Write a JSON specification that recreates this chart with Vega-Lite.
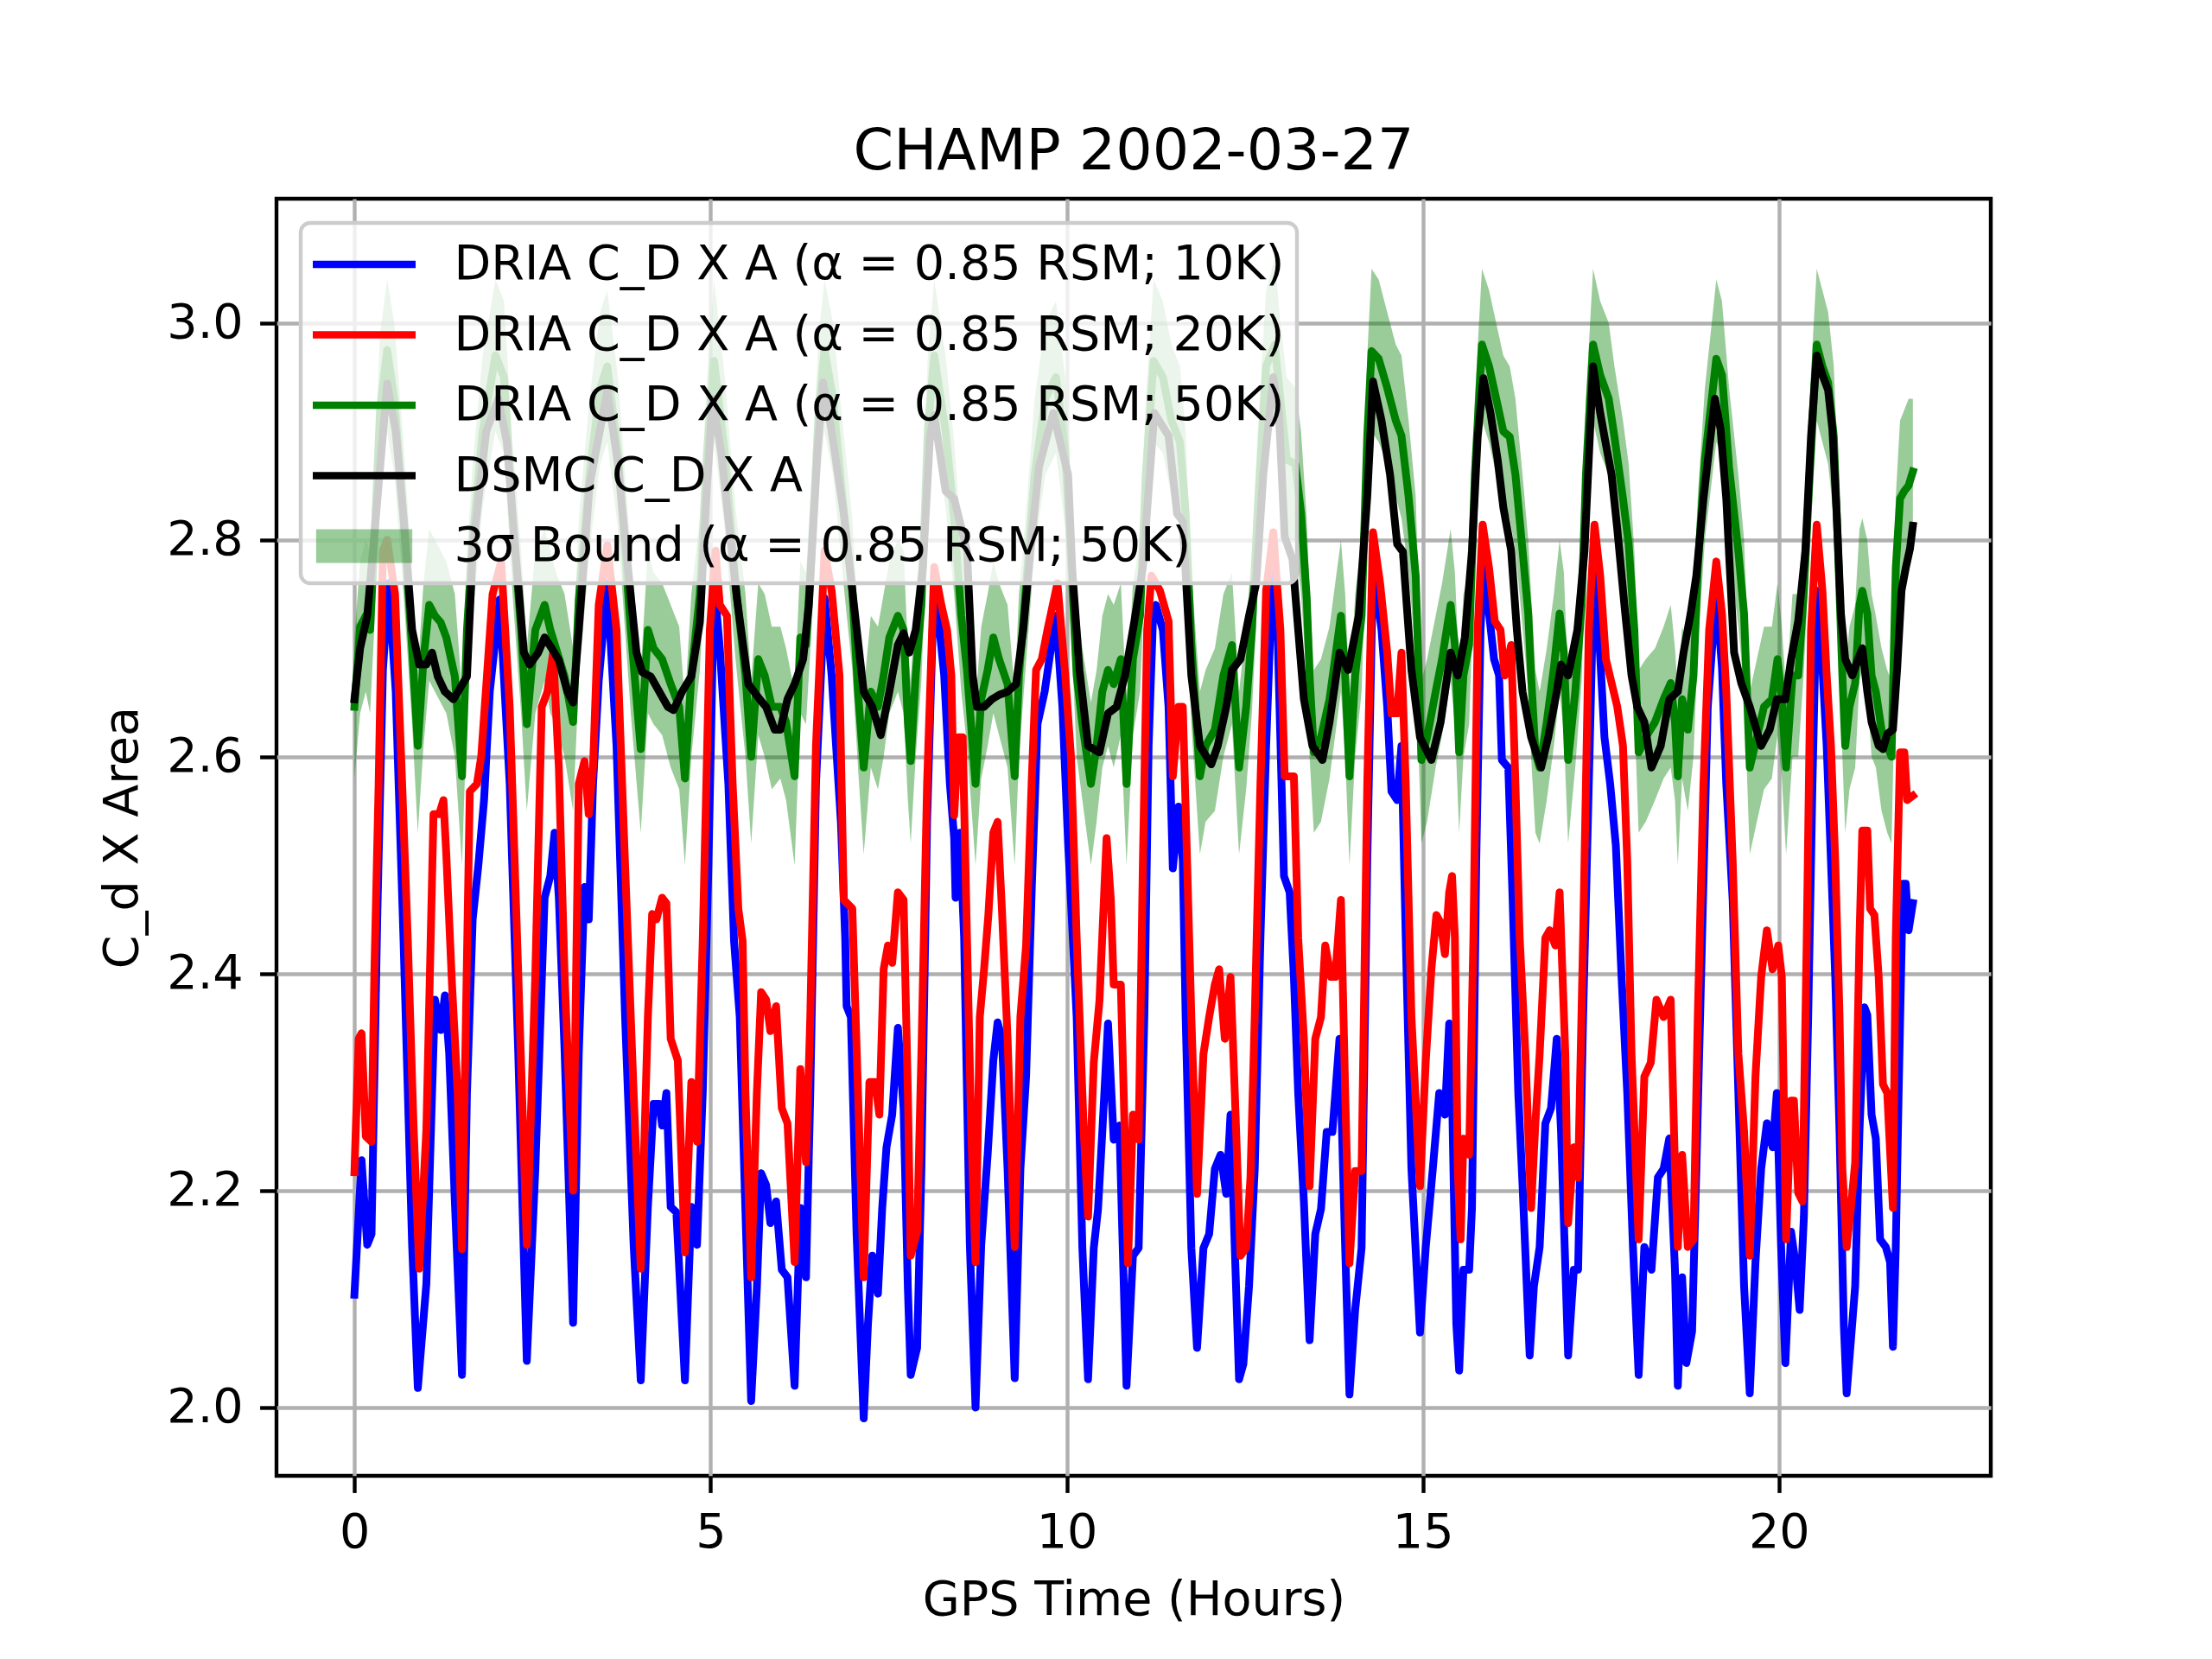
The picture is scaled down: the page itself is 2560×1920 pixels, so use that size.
{
  "$schema": "https://vega.github.io/schema/vega-lite/v6.json",
  "width": 1984,
  "height": 1478,
  "autosize": {"type": "none"},
  "padding": {"left": 320, "top": 230, "right": 256, "bottom": 212},
  "background": "white",
  "title": {"text": "CHAMP 2002-03-27", "font": "DejaVu Sans", "fontSize": 66.7, "fontWeight": "normal", "color": "black", "anchor": "middle", "baseline": "alphabetic", "offset": -33},
  "config": {
    "view": {"stroke": "black", "strokeWidth": 4.4},
    "axis": {
      "domain": false, "grid": true, "gridColor": "#b0b0b0", "gridWidth": 4.4,
      "ticks": true, "tickColor": "black", "tickWidth": 4.4, "tickSize": 19.4,
      "labelFont": "DejaVu Sans", "labelFontSize": 55.6, "labelColor": "black", "labelPadding": 19.4,
      "labelFlush": false, "labelOverlap": false,
      "titleFont": "DejaVu Sans", "titleFontSize": 55.6, "titleFontWeight": "normal", "titleColor": "black", "titlePadding": 22
    }
  },
  "datasets": {
    "band": [
      {"t":0,"lo":2.58,"hi":2.71},{"t":0.08,"lo":2.64,"hi":2.78},{"t":0.16,"lo":2.66,"hi":2.8},{"t":0.22,"lo":2.64,"hi":2.79},{"t":0.28,"lo":2.72,"hi":2.87},{"t":0.36,"lo":2.85,"hi":2.99},{"t":0.46,"lo":2.9,"hi":3.04},{"t":0.56,"lo":2.86,"hi":3.0},{"t":0.69,"lo":2.75,"hi":2.89},{"t":0.81,"lo":2.63,"hi":2.77},{"t":0.89,"lo":2.53,"hi":2.68},{"t":0.97,"lo":2.61,"hi":2.76},{"t":1.05,"lo":2.67,"hi":2.81},{"t":1.13,"lo":2.66,"hi":2.8},{"t":1.21,"lo":2.65,"hi":2.79},{"t":1.29,"lo":2.64,"hi":2.78},{"t":1.41,"lo":2.6,"hi":2.75},{"t":1.51,"lo":2.5,"hi":2.66},{"t":1.58,"lo":2.64,"hi":2.79},{"t":1.66,"lo":2.73,"hi":2.87},{"t":1.8,"lo":2.83,"hi":2.97},{"t":1.98,"lo":2.9,"hi":3.04},{"t":2.1,"lo":2.88,"hi":3.02},{"t":2.22,"lo":2.75,"hi":2.89},{"t":2.34,"lo":2.64,"hi":2.79},{"t":2.42,"lo":2.55,"hi":2.7},{"t":2.54,"lo":2.64,"hi":2.79},{"t":2.67,"lo":2.67,"hi":2.81},{"t":2.75,"lo":2.64,"hi":2.79},{"t":2.83,"lo":2.63,"hi":2.77},{"t":2.95,"lo":2.6,"hi":2.75},{"t":3.07,"lo":2.55,"hi":2.7},{"t":3.15,"lo":2.67,"hi":2.82},{"t":3.3,"lo":2.79,"hi":2.93},{"t":3.45,"lo":2.87,"hi":3.01},{"t":3.55,"lo":2.89,"hi":3.03},{"t":3.7,"lo":2.81,"hi":2.95},{"t":3.88,"lo":2.64,"hi":2.79},{"t":4.02,"lo":2.53,"hi":2.68},{"t":4.12,"lo":2.64,"hi":2.79},{"t":4.2,"lo":2.63,"hi":2.77},{"t":4.32,"lo":2.62,"hi":2.76},{"t":4.44,"lo":2.59,"hi":2.74},{"t":4.56,"lo":2.57,"hi":2.72},{"t":4.64,"lo":2.5,"hi":2.65},{"t":4.73,"lo":2.6,"hi":2.75},{"t":4.85,"lo":2.68,"hi":2.82},{"t":4.95,"lo":2.81,"hi":2.95},{"t":5.05,"lo":2.89,"hi":3.04},{"t":5.2,"lo":2.81,"hi":2.95},{"t":5.35,"lo":2.69,"hi":2.83},{"t":5.49,"lo":2.6,"hi":2.75},{"t":5.57,"lo":2.52,"hi":2.67},{"t":5.67,"lo":2.62,"hi":2.76},{"t":5.76,"lo":2.6,"hi":2.75},{"t":5.86,"lo":2.57,"hi":2.72},{"t":5.98,"lo":2.58,"hi":2.72},{"t":6.06,"lo":2.56,"hi":2.7},{"t":6.18,"lo":2.5,"hi":2.66},{"t":6.26,"lo":2.64,"hi":2.78},{"t":6.34,"lo":2.63,"hi":2.77},{"t":6.42,"lo":2.72,"hi":2.86},{"t":6.52,"lo":2.85,"hi":2.99},{"t":6.6,"lo":2.9,"hi":3.04},{"t":6.72,"lo":2.86,"hi":3.0},{"t":6.85,"lo":2.77,"hi":2.91},{"t":6.99,"lo":2.68,"hi":2.82},{"t":7.07,"lo":2.59,"hi":2.73},{"t":7.15,"lo":2.51,"hi":2.66},{"t":7.25,"lo":2.59,"hi":2.73},{"t":7.35,"lo":2.57,"hi":2.72},{"t":7.43,"lo":2.6,"hi":2.75},{"t":7.51,"lo":2.64,"hi":2.78},{"t":7.63,"lo":2.66,"hi":2.8},{"t":7.71,"lo":2.64,"hi":2.79},{"t":7.77,"lo":2.56,"hi":2.7},{"t":7.81,"lo":2.52,"hi":2.67},{"t":7.88,"lo":2.6,"hi":2.75},{"t":7.96,"lo":2.67,"hi":2.81},{"t":8.05,"lo":2.83,"hi":2.97},{"t":8.14,"lo":2.9,"hi":3.04},{"t":8.3,"lo":2.83,"hi":2.97},{"t":8.42,"lo":2.75,"hi":2.89},{"t":8.52,"lo":2.66,"hi":2.8},{"t":8.6,"lo":2.61,"hi":2.75},{"t":8.72,"lo":2.5,"hi":2.65},{"t":8.8,"lo":2.58,"hi":2.72},{"t":8.89,"lo":2.61,"hi":2.75},{"t":8.97,"lo":2.64,"hi":2.78},{"t":9.05,"lo":2.62,"hi":2.76},{"t":9.17,"lo":2.59,"hi":2.74},{"t":9.27,"lo":2.5,"hi":2.66},{"t":9.33,"lo":2.6,"hi":2.75},{"t":9.41,"lo":2.67,"hi":2.81},{"t":9.55,"lo":2.79,"hi":2.93},{"t":9.7,"lo":2.86,"hi":3.0},{"t":9.85,"lo":2.88,"hi":3.02},{"t":9.98,"lo":2.81,"hi":2.95},{"t":10.08,"lo":2.69,"hi":2.83},{"t":10.14,"lo":2.6,"hi":2.75},{"t":10.22,"lo":2.56,"hi":2.7},{"t":10.34,"lo":2.5,"hi":2.65},{"t":10.42,"lo":2.54,"hi":2.68},{"t":10.5,"lo":2.59,"hi":2.73},{"t":10.58,"lo":2.61,"hi":2.75},{"t":10.66,"lo":2.59,"hi":2.74},{"t":10.76,"lo":2.62,"hi":2.76},{"t":10.84,"lo":2.5,"hi":2.65},{"t":10.93,"lo":2.62,"hi":2.76},{"t":11.03,"lo":2.66,"hi":2.8},{"t":11.11,"lo":2.79,"hi":2.93},{"t":11.22,"lo":2.89,"hi":3.04},{"t":11.35,"lo":2.88,"hi":3.02},{"t":11.47,"lo":2.84,"hi":2.98},{"t":11.59,"lo":2.82,"hi":2.96},{"t":11.67,"lo":2.75,"hi":2.9},{"t":11.75,"lo":2.63,"hi":2.77},{"t":11.87,"lo":2.51,"hi":2.66},{"t":11.95,"lo":2.54,"hi":2.68},{"t":12.08,"lo":2.55,"hi":2.7},{"t":12.2,"lo":2.6,"hi":2.75},{"t":12.32,"lo":2.63,"hi":2.77},{"t":12.42,"lo":2.51,"hi":2.66},{"t":12.52,"lo":2.57,"hi":2.72},{"t":12.6,"lo":2.64,"hi":2.79},{"t":12.68,"lo":2.75,"hi":2.9},{"t":12.8,"lo":2.89,"hi":3.03},{"t":12.92,"lo":2.91,"hi":3.06},{"t":13.0,"lo":2.86,"hi":3.0},{"t":13.09,"lo":2.8,"hi":2.95},{"t":13.21,"lo":2.8,"hi":2.94},{"t":13.29,"lo":2.75,"hi":2.9},{"t":13.37,"lo":2.67,"hi":2.82},{"t":13.41,"lo":2.6,"hi":2.75},{"t":13.47,"lo":2.53,"hi":2.68},{"t":13.57,"lo":2.54,"hi":2.69},{"t":13.69,"lo":2.58,"hi":2.72},{"t":13.85,"lo":2.66,"hi":2.8},{"t":13.91,"lo":2.6,"hi":2.75},{"t":13.97,"lo":2.5,"hi":2.66},{"t":14.05,"lo":2.6,"hi":2.75},{"t":14.14,"lo":2.66,"hi":2.8},{"t":14.22,"lo":2.82,"hi":2.97},{"t":14.28,"lo":2.9,"hi":3.05},{"t":14.38,"lo":2.89,"hi":3.04},{"t":14.5,"lo":2.87,"hi":3.01},{"t":14.62,"lo":2.84,"hi":2.98},{"t":14.7,"lo":2.82,"hi":2.97},{"t":14.8,"lo":2.77,"hi":2.91},{"t":14.9,"lo":2.69,"hi":2.84},{"t":14.98,"lo":2.52,"hi":2.67},{"t":15.06,"lo":2.54,"hi":2.69},{"t":15.18,"lo":2.59,"hi":2.73},{"t":15.27,"lo":2.62,"hi":2.76},{"t":15.39,"lo":2.67,"hi":2.81},{"t":15.45,"lo":2.63,"hi":2.77},{"t":15.51,"lo":2.53,"hi":2.68},{"t":15.57,"lo":2.6,"hi":2.75},{"t":15.65,"lo":2.63,"hi":2.77},{"t":15.73,"lo":2.79,"hi":2.93},{"t":15.83,"lo":2.91,"hi":3.05},{"t":15.93,"lo":2.89,"hi":3.03},{"t":16.03,"lo":2.86,"hi":3.0},{"t":16.13,"lo":2.83,"hi":2.97},{"t":16.22,"lo":2.82,"hi":2.96},{"t":16.3,"lo":2.79,"hi":2.93},{"t":16.4,"lo":2.72,"hi":2.86},{"t":16.48,"lo":2.66,"hi":2.8},{"t":16.52,"lo":2.6,"hi":2.75},{"t":16.58,"lo":2.53,"hi":2.68},{"t":16.64,"lo":2.52,"hi":2.66},{"t":16.74,"lo":2.56,"hi":2.7},{"t":16.84,"lo":2.61,"hi":2.75},{"t":16.92,"lo":2.66,"hi":2.8},{"t":16.98,"lo":2.62,"hi":2.77},{"t":17.04,"lo":2.52,"hi":2.67},{"t":17.14,"lo":2.59,"hi":2.73},{"t":17.23,"lo":2.67,"hi":2.81},{"t":17.29,"lo":2.79,"hi":2.93},{"t":17.39,"lo":2.91,"hi":3.05},{"t":17.49,"lo":2.88,"hi":3.02},{"t":17.61,"lo":2.86,"hi":3.0},{"t":17.69,"lo":2.82,"hi":2.96},{"t":17.81,"lo":2.77,"hi":2.91},{"t":17.89,"lo":2.72,"hi":2.87},{"t":17.97,"lo":2.64,"hi":2.79},{"t":18.03,"lo":2.53,"hi":2.68},{"t":18.13,"lo":2.54,"hi":2.69},{"t":18.26,"lo":2.56,"hi":2.7},{"t":18.38,"lo":2.58,"hi":2.72},{"t":18.48,"lo":2.59,"hi":2.74},{"t":18.54,"lo":2.56,"hi":2.7},{"t":18.58,"lo":2.5,"hi":2.66},{"t":18.64,"lo":2.58,"hi":2.72},{"t":18.72,"lo":2.55,"hi":2.7},{"t":18.8,"lo":2.6,"hi":2.75},{"t":18.86,"lo":2.7,"hi":2.84},{"t":18.96,"lo":2.8,"hi":2.94},{"t":19.12,"lo":2.89,"hi":3.04},{"t":19.2,"lo":2.88,"hi":3.02},{"t":19.3,"lo":2.79,"hi":2.94},{"t":19.43,"lo":2.72,"hi":2.86},{"t":19.51,"lo":2.66,"hi":2.8},{"t":19.59,"lo":2.51,"hi":2.66},{"t":19.69,"lo":2.54,"hi":2.69},{"t":19.79,"lo":2.57,"hi":2.72},{"t":19.9,"lo":2.58,"hi":2.72},{"t":19.98,"lo":2.62,"hi":2.76},{"t":20.04,"lo":2.58,"hi":2.72},{"t":20.1,"lo":2.51,"hi":2.66},{"t":20.19,"lo":2.6,"hi":2.75},{"t":20.27,"lo":2.6,"hi":2.75},{"t":20.35,"lo":2.68,"hi":2.82},{"t":20.43,"lo":2.79,"hi":2.93},{"t":20.53,"lo":2.91,"hi":3.05},{"t":20.61,"lo":2.89,"hi":3.03},{"t":20.69,"lo":2.87,"hi":3.01},{"t":20.77,"lo":2.82,"hi":2.96},{"t":20.83,"lo":2.72,"hi":2.86},{"t":20.89,"lo":2.6,"hi":2.75},{"t":20.93,"lo":2.53,"hi":2.68},{"t":20.99,"lo":2.57,"hi":2.72},{"t":21.07,"lo":2.59,"hi":2.74},{"t":21.13,"lo":2.67,"hi":2.81},{"t":21.17,"lo":2.68,"hi":2.82},{"t":21.24,"lo":2.66,"hi":2.8},{"t":21.3,"lo":2.6,"hi":2.75},{"t":21.36,"lo":2.59,"hi":2.73},{"t":21.44,"lo":2.55,"hi":2.7},{"t":21.52,"lo":2.53,"hi":2.68},{"t":21.58,"lo":2.52,"hi":2.67},{"t":21.64,"lo":2.7,"hi":2.84},{"t":21.7,"lo":2.76,"hi":2.91},{"t":21.76,"lo":2.77,"hi":2.92},{"t":21.82,"lo":2.78,"hi":2.93},{"t":21.88,"lo":2.79,"hi":2.93}
    ],
    "lines": [
      {"s":"b","t":0,"v":2.104},{"s":"b","t":0.1,"v":2.228},{"s":"b","t":0.18,"v":2.15},{"s":"b","t":0.24,"v":2.16},{"s":"b","t":0.32,"v":2.45},{"s":"b","t":0.4,"v":2.68},{"s":"b","t":0.48,"v":2.76},{"s":"b","t":0.58,"v":2.66},{"s":"b","t":0.69,"v":2.43},{"s":"b","t":0.81,"v":2.15},{"s":"b","t":0.89,"v":2.018},{"s":"b","t":1.01,"v":2.114},{"s":"b","t":1.09,"v":2.29},{"s":"b","t":1.13,"v":2.376},{"s":"b","t":1.21,"v":2.348},{"s":"b","t":1.27,"v":2.38},{"s":"b","t":1.33,"v":2.327},{"s":"b","t":1.41,"v":2.19},{"s":"b","t":1.51,"v":2.03},{"s":"b","t":1.58,"v":2.29},{"s":"b","t":1.66,"v":2.45},{"s":"b","t":1.74,"v":2.5},{"s":"b","t":1.82,"v":2.56},{"s":"b","t":1.9,"v":2.66},{"s":"b","t":2.04,"v":2.745},{"s":"b","t":2.18,"v":2.575},{"s":"b","t":2.3,"v":2.327},{"s":"b","t":2.42,"v":2.043},{"s":"b","t":2.54,"v":2.22},{"s":"b","t":2.67,"v":2.47},{"s":"b","t":2.75,"v":2.49},{"s":"b","t":2.81,"v":2.53},{"s":"b","t":2.87,"v":2.47},{"s":"b","t":2.95,"v":2.33},{"s":"b","t":3.07,"v":2.078},{"s":"b","t":3.15,"v":2.327},{"s":"b","t":3.23,"v":2.48},{"s":"b","t":3.29,"v":2.45},{"s":"b","t":3.35,"v":2.575},{"s":"b","t":3.43,"v":2.67},{"s":"b","t":3.55,"v":2.76},{"s":"b","t":3.68,"v":2.61},{"s":"b","t":3.8,"v":2.36},{"s":"b","t":3.92,"v":2.15},{"s":"b","t":4.02,"v":2.025},{"s":"b","t":4.12,"v":2.185},{"s":"b","t":4.2,"v":2.28},{"s":"b","t":4.28,"v":2.28},{"s":"b","t":4.32,"v":2.26},{"s":"b","t":4.38,"v":2.29},{"s":"b","t":4.44,"v":2.185},{"s":"b","t":4.52,"v":2.18},{"s":"b","t":4.64,"v":2.025},{"s":"b","t":4.73,"v":2.185},{"s":"b","t":4.81,"v":2.15},{"s":"b","t":4.89,"v":2.29},{"s":"b","t":4.97,"v":2.5},{"s":"b","t":5.05,"v":2.76},{"s":"b","t":5.13,"v":2.7},{"s":"b","t":5.25,"v":2.575},{"s":"b","t":5.33,"v":2.43},{"s":"b","t":5.41,"v":2.36},{"s":"b","t":5.49,"v":2.18},{"s":"b","t":5.57,"v":2.006},{"s":"b","t":5.65,"v":2.11},{"s":"b","t":5.71,"v":2.216},{"s":"b","t":5.78,"v":2.205},{"s":"b","t":5.84,"v":2.17},{"s":"b","t":5.92,"v":2.19},{"s":"b","t":6.0,"v":2.127},{"s":"b","t":6.08,"v":2.12},{"s":"b","t":6.18,"v":2.02},{"s":"b","t":6.26,"v":2.184},{"s":"b","t":6.34,"v":2.12},{"s":"b","t":6.4,"v":2.29},{"s":"b","t":6.48,"v":2.575},{"s":"b","t":6.6,"v":2.746},{"s":"b","t":6.7,"v":2.675},{"s":"b","t":6.83,"v":2.54},{"s":"b","t":6.89,"v":2.433},{"s":"b","t":6.91,"v":2.37},{"s":"b","t":6.97,"v":2.36},{"s":"b","t":7.05,"v":2.16},{"s":"b","t":7.15,"v":1.99},{"s":"b","t":7.21,"v":2.077},{"s":"b","t":7.27,"v":2.14},{"s":"b","t":7.35,"v":2.105},{"s":"b","t":7.41,"v":2.184},{"s":"b","t":7.47,"v":2.24},{"s":"b","t":7.55,"v":2.27},{"s":"b","t":7.63,"v":2.35},{"s":"b","t":7.71,"v":2.276},{"s":"b","t":7.77,"v":2.11},{"s":"b","t":7.81,"v":2.03},{"s":"b","t":7.9,"v":2.055},{"s":"b","t":7.96,"v":2.22},{"s":"b","t":8.04,"v":2.54},{"s":"b","t":8.14,"v":2.767},{"s":"b","t":8.28,"v":2.675},{"s":"b","t":8.36,"v":2.575},{"s":"b","t":8.42,"v":2.525},{"s":"b","t":8.44,"v":2.47},{"s":"b","t":8.5,"v":2.53},{"s":"b","t":8.56,"v":2.433},{"s":"b","t":8.64,"v":2.15},{"s":"b","t":8.72,"v":2.0},{"s":"b","t":8.8,"v":2.15},{"s":"b","t":8.89,"v":2.233},{"s":"b","t":8.97,"v":2.32},{"s":"b","t":9.03,"v":2.355},{"s":"b","t":9.09,"v":2.34},{"s":"b","t":9.17,"v":2.22},{"s":"b","t":9.27,"v":2.027},{"s":"b","t":9.35,"v":2.22},{"s":"b","t":9.43,"v":2.305},{"s":"b","t":9.51,"v":2.48},{"s":"b","t":9.59,"v":2.63},{"s":"b","t":9.69,"v":2.66},{"s":"b","t":9.77,"v":2.696},{"s":"b","t":9.85,"v":2.73},{"s":"b","t":9.94,"v":2.646},{"s":"b","t":10.02,"v":2.52},{"s":"b","t":10.14,"v":2.36},{"s":"b","t":10.22,"v":2.147},{"s":"b","t":10.3,"v":2.026},{"s":"b","t":10.38,"v":2.147},{"s":"b","t":10.44,"v":2.183},{"s":"b","t":10.5,"v":2.254},{"s":"b","t":10.58,"v":2.354},{"s":"b","t":10.66,"v":2.247},{"s":"b","t":10.74,"v":2.26},{"s":"b","t":10.84,"v":2.02},{"s":"b","t":10.93,"v":2.14},{"s":"b","t":11.01,"v":2.147},{"s":"b","t":11.09,"v":2.36},{"s":"b","t":11.15,"v":2.61},{"s":"b","t":11.21,"v":2.725},{"s":"b","t":11.25,"v":2.74},{"s":"b","t":11.35,"v":2.717},{"s":"b","t":11.43,"v":2.646},{"s":"b","t":11.49,"v":2.497},{"s":"b","t":11.57,"v":2.554},{"s":"b","t":11.63,"v":2.504},{"s":"b","t":11.67,"v":2.36},{"s":"b","t":11.75,"v":2.147},{"s":"b","t":11.83,"v":2.055},{"s":"b","t":11.92,"v":2.147},{"s":"b","t":12.0,"v":2.16},{"s":"b","t":12.08,"v":2.22},{"s":"b","t":12.16,"v":2.233},{"s":"b","t":12.24,"v":2.197},{"s":"b","t":12.3,"v":2.27},{"s":"b","t":12.36,"v":2.147},{"s":"b","t":12.42,"v":2.026},{"s":"b","t":12.48,"v":2.04},{"s":"b","t":12.56,"v":2.112},{"s":"b","t":12.64,"v":2.22},{"s":"b","t":12.72,"v":2.433},{"s":"b","t":12.8,"v":2.61},{"s":"b","t":12.9,"v":2.79},{"s":"b","t":12.96,"v":2.717},{"s":"b","t":13.05,"v":2.49},{"s":"b","t":13.13,"v":2.475},{"s":"b","t":13.19,"v":2.397},{"s":"b","t":13.25,"v":2.29},{"s":"b","t":13.33,"v":2.19},{"s":"b","t":13.41,"v":2.062},{"s":"b","t":13.49,"v":2.16},{"s":"b","t":13.57,"v":2.183},{"s":"b","t":13.65,"v":2.254},{"s":"b","t":13.73,"v":2.254},{"s":"b","t":13.83,"v":2.34},{"s":"b","t":13.91,"v":2.147},{"s":"b","t":13.97,"v":2.012},{"s":"b","t":14.05,"v":2.09},{"s":"b","t":14.14,"v":2.147},{"s":"b","t":14.22,"v":2.504},{"s":"b","t":14.3,"v":2.775},{"s":"b","t":14.42,"v":2.717},{"s":"b","t":14.5,"v":2.646},{"s":"b","t":14.56,"v":2.568},{"s":"b","t":14.64,"v":2.56},{"s":"b","t":14.7,"v":2.61},{"s":"b","t":14.76,"v":2.433},{"s":"b","t":14.84,"v":2.22},{"s":"b","t":14.96,"v":2.069},{"s":"b","t":15.04,"v":2.147},{"s":"b","t":15.14,"v":2.22},{"s":"b","t":15.23,"v":2.29},{"s":"b","t":15.31,"v":2.27},{"s":"b","t":15.37,"v":2.354},{"s":"b","t":15.41,"v":2.29},{"s":"b","t":15.47,"v":2.077},{"s":"b","t":15.51,"v":2.034},{"s":"b","t":15.57,"v":2.127},{"s":"b","t":15.65,"v":2.127},{"s":"b","t":15.69,"v":2.184},{"s":"b","t":15.75,"v":2.504},{"s":"b","t":15.81,"v":2.717},{"s":"b","t":15.85,"v":2.774},{"s":"b","t":15.93,"v":2.732},{"s":"b","t":16.0,"v":2.69},{"s":"b","t":16.07,"v":2.675},{"s":"b","t":16.11,"v":2.597},{"s":"b","t":16.2,"v":2.59},{"s":"b","t":16.26,"v":2.47},{"s":"b","t":16.34,"v":2.29},{"s":"b","t":16.4,"v":2.205},{"s":"b","t":16.5,"v":2.048},{"s":"b","t":16.56,"v":2.112},{"s":"b","t":16.64,"v":2.148},{"s":"b","t":16.72,"v":2.262},{"s":"b","t":16.8,"v":2.276},{"s":"b","t":16.88,"v":2.34},{"s":"b","t":16.94,"v":2.255},{"s":"b","t":17.04,"v":2.048},{"s":"b","t":17.12,"v":2.127},{"s":"b","t":17.18,"v":2.127},{"s":"b","t":17.25,"v":2.36},{"s":"b","t":17.33,"v":2.575},{"s":"b","t":17.41,"v":2.79},{"s":"b","t":17.47,"v":2.717},{"s":"b","t":17.55,"v":2.618},{"s":"b","t":17.63,"v":2.575},{"s":"b","t":17.71,"v":2.518},{"s":"b","t":17.79,"v":2.397},{"s":"b","t":17.87,"v":2.29},{"s":"b","t":17.95,"v":2.148},{"s":"b","t":18.03,"v":2.03},{"s":"b","t":18.11,"v":2.148},{"s":"b","t":18.21,"v":2.127},{"s":"b","t":18.3,"v":2.212},{"s":"b","t":18.38,"v":2.22},{"s":"b","t":18.46,"v":2.248},{"s":"b","t":18.54,"v":2.127},{"s":"b","t":18.58,"v":2.02},{"s":"b","t":18.64,"v":2.12},{"s":"b","t":18.7,"v":2.041},{"s":"b","t":18.78,"v":2.07},{"s":"b","t":18.84,"v":2.22},{"s":"b","t":18.92,"v":2.433},{"s":"b","t":19.0,"v":2.646},{"s":"b","t":19.12,"v":2.753},{"s":"b","t":19.2,"v":2.682},{"s":"b","t":19.26,"v":2.575},{"s":"b","t":19.35,"v":2.468},{"s":"b","t":19.43,"v":2.29},{"s":"b","t":19.51,"v":2.112},{"s":"b","t":19.59,"v":2.013},{"s":"b","t":19.67,"v":2.134},{"s":"b","t":19.75,"v":2.22},{"s":"b","t":19.83,"v":2.262},{"s":"b","t":19.91,"v":2.24},{"s":"b","t":19.97,"v":2.29},{"s":"b","t":20.03,"v":2.148},{"s":"b","t":20.09,"v":2.041},{"s":"b","t":20.17,"v":2.162},{"s":"b","t":20.23,"v":2.134},{"s":"b","t":20.29,"v":2.09},{"s":"b","t":20.35,"v":2.176},{"s":"b","t":20.41,"v":2.36},{"s":"b","t":20.47,"v":2.575},{"s":"b","t":20.53,"v":2.753},{"s":"b","t":20.61,"v":2.682},{"s":"b","t":20.67,"v":2.61},{"s":"b","t":20.73,"v":2.504},{"s":"b","t":20.79,"v":2.397},{"s":"b","t":20.85,"v":2.255},{"s":"b","t":20.91,"v":2.077},{"s":"b","t":20.95,"v":2.013},{"s":"b","t":21.01,"v":2.062},{"s":"b","t":21.07,"v":2.112},{"s":"b","t":21.13,"v":2.255},{"s":"b","t":21.2,"v":2.369},{"s":"b","t":21.24,"v":2.362},{"s":"b","t":21.3,"v":2.27},{"s":"b","t":21.36,"v":2.248},{"s":"b","t":21.42,"v":2.155},{"s":"b","t":21.5,"v":2.148},{"s":"b","t":21.56,"v":2.134},{"s":"b","t":21.6,"v":2.056},{"s":"b","t":21.64,"v":2.148},{"s":"b","t":21.68,"v":2.29},{"s":"b","t":21.74,"v":2.483},{"s":"b","t":21.78,"v":2.483},{"s":"b","t":21.82,"v":2.44},{"s":"b","t":21.88,"v":2.465},
      {"s":"r","t":0,"v":2.217},{"s":"r","t":0.06,"v":2.34},{"s":"r","t":0.1,"v":2.345},{"s":"r","t":0.16,"v":2.25},{"s":"r","t":0.24,"v":2.245},{"s":"r","t":0.28,"v":2.4},{"s":"r","t":0.34,"v":2.575},{"s":"r","t":0.4,"v":2.79},{"s":"r","t":0.46,"v":2.8},{"s":"r","t":0.57,"v":2.75},{"s":"r","t":0.67,"v":2.575},{"s":"r","t":0.75,"v":2.43},{"s":"r","t":0.83,"v":2.26},{"s":"r","t":0.91,"v":2.128},{"s":"r","t":1.01,"v":2.256},{"s":"r","t":1.07,"v":2.43},{"s":"r","t":1.11,"v":2.547},{"s":"r","t":1.19,"v":2.547},{"s":"r","t":1.25,"v":2.56},{"s":"r","t":1.29,"v":2.51},{"s":"r","t":1.37,"v":2.39},{"s":"r","t":1.45,"v":2.29},{"s":"r","t":1.51,"v":2.146},{"s":"r","t":1.62,"v":2.568},{"s":"r","t":1.72,"v":2.575},{"s":"r","t":1.78,"v":2.6},{"s":"r","t":1.86,"v":2.674},{"s":"r","t":1.94,"v":2.75},{"s":"r","t":2.06,"v":2.78},{"s":"r","t":2.18,"v":2.646},{"s":"r","t":2.3,"v":2.4},{"s":"r","t":2.42,"v":2.15},{"s":"r","t":2.54,"v":2.4},{"s":"r","t":2.63,"v":2.646},{"s":"r","t":2.71,"v":2.66},{"s":"r","t":2.79,"v":2.696},{"s":"r","t":2.87,"v":2.59},{"s":"r","t":2.95,"v":2.4},{"s":"r","t":3.07,"v":2.2},{"s":"r","t":3.15,"v":2.575},{"s":"r","t":3.23,"v":2.596},{"s":"r","t":3.29,"v":2.547},{"s":"r","t":3.35,"v":2.59},{"s":"r","t":3.43,"v":2.74},{"s":"r","t":3.55,"v":2.795},{"s":"r","t":3.68,"v":2.717},{"s":"r","t":3.8,"v":2.5},{"s":"r","t":3.92,"v":2.29},{"s":"r","t":4.02,"v":2.128},{"s":"r","t":4.12,"v":2.36},{"s":"r","t":4.18,"v":2.455},{"s":"r","t":4.24,"v":2.45},{"s":"r","t":4.32,"v":2.47},{"s":"r","t":4.38,"v":2.465},{"s":"r","t":4.44,"v":2.34},{"s":"r","t":4.54,"v":2.32},{"s":"r","t":4.64,"v":2.143},{"s":"r","t":4.73,"v":2.3},{"s":"r","t":4.81,"v":2.245},{"s":"r","t":4.89,"v":2.43},{"s":"r","t":4.99,"v":2.717},{"s":"r","t":5.07,"v":2.79},{"s":"r","t":5.13,"v":2.74},{"s":"r","t":5.23,"v":2.73},{"s":"r","t":5.31,"v":2.575},{"s":"r","t":5.39,"v":2.46},{"s":"r","t":5.45,"v":2.43},{"s":"r","t":5.49,"v":2.29},{"s":"r","t":5.57,"v":2.12},{"s":"r","t":5.65,"v":2.29},{"s":"r","t":5.71,"v":2.383},{"s":"r","t":5.78,"v":2.376},{"s":"r","t":5.84,"v":2.347},{"s":"r","t":5.92,"v":2.37},{"s":"r","t":6.0,"v":2.276},{"s":"r","t":6.08,"v":2.262},{"s":"r","t":6.18,"v":2.134},{"s":"r","t":6.26,"v":2.312},{"s":"r","t":6.34,"v":2.226},{"s":"r","t":6.4,"v":2.36},{"s":"r","t":6.48,"v":2.61},{"s":"r","t":6.6,"v":2.79},{"s":"r","t":6.7,"v":2.753},{"s":"r","t":6.81,"v":2.675},{"s":"r","t":6.87,"v":2.468},{"s":"r","t":6.99,"v":2.46},{"s":"r","t":7.07,"v":2.29},{"s":"r","t":7.15,"v":2.12},{"s":"r","t":7.23,"v":2.3},{"s":"r","t":7.31,"v":2.3},{"s":"r","t":7.37,"v":2.27},{"s":"r","t":7.43,"v":2.404},{"s":"r","t":7.49,"v":2.426},{"s":"r","t":7.55,"v":2.41},{"s":"r","t":7.63,"v":2.475},{"s":"r","t":7.71,"v":2.468},{"s":"r","t":7.77,"v":2.29},{"s":"r","t":7.81,"v":2.14},{"s":"r","t":7.9,"v":2.162},{"s":"r","t":7.96,"v":2.326},{"s":"r","t":8.04,"v":2.575},{"s":"r","t":8.14,"v":2.775},{"s":"r","t":8.24,"v":2.74},{"s":"r","t":8.32,"v":2.717},{"s":"r","t":8.38,"v":2.675},{"s":"r","t":8.42,"v":2.546},{"s":"r","t":8.48,"v":2.618},{"s":"r","t":8.54,"v":2.618},{"s":"r","t":8.6,"v":2.433},{"s":"r","t":8.66,"v":2.255},{"s":"r","t":8.72,"v":2.134},{"s":"r","t":8.78,"v":2.36},{"s":"r","t":8.84,"v":2.404},{"s":"r","t":8.9,"v":2.454},{"s":"r","t":8.97,"v":2.53},{"s":"r","t":9.03,"v":2.54},{"s":"r","t":9.09,"v":2.46},{"s":"r","t":9.17,"v":2.34},{"s":"r","t":9.27,"v":2.148},{"s":"r","t":9.35,"v":2.36},{"s":"r","t":9.43,"v":2.426},{"s":"r","t":9.51,"v":2.58},{"s":"r","t":9.57,"v":2.68},{"s":"r","t":9.65,"v":2.69},{"s":"r","t":9.73,"v":2.717},{"s":"r","t":9.87,"v":2.76},{"s":"r","t":9.98,"v":2.675},{"s":"r","t":10.06,"v":2.6},{"s":"r","t":10.14,"v":2.433},{"s":"r","t":10.24,"v":2.254},{"s":"r","t":10.3,"v":2.176},{"s":"r","t":10.38,"v":2.318},{"s":"r","t":10.46,"v":2.375},{"s":"r","t":10.56,"v":2.525},{"s":"r","t":10.62,"v":2.468},{"s":"r","t":10.66,"v":2.39},{"s":"r","t":10.76,"v":2.39},{"s":"r","t":10.8,"v":2.29},{"s":"r","t":10.86,"v":2.133},{"s":"r","t":10.93,"v":2.27},{"s":"r","t":11.01,"v":2.247},{"s":"r","t":11.07,"v":2.504},{"s":"r","t":11.13,"v":2.717},{"s":"r","t":11.19,"v":2.767},{"s":"r","t":11.31,"v":2.753},{"s":"r","t":11.43,"v":2.725},{"s":"r","t":11.49,"v":2.582},{"s":"r","t":11.57,"v":2.646},{"s":"r","t":11.63,"v":2.646},{"s":"r","t":11.69,"v":2.504},{"s":"r","t":11.75,"v":2.36},{"s":"r","t":11.83,"v":2.197},{"s":"r","t":11.92,"v":2.326},{"s":"r","t":12.0,"v":2.36},{"s":"r","t":12.08,"v":2.39},{"s":"r","t":12.14,"v":2.404},{"s":"r","t":12.22,"v":2.34},{"s":"r","t":12.3,"v":2.397},{"s":"r","t":12.36,"v":2.29},{"s":"r","t":12.44,"v":2.14},{"s":"r","t":12.52,"v":2.147},{"s":"r","t":12.58,"v":2.212},{"s":"r","t":12.64,"v":2.36},{"s":"r","t":12.72,"v":2.575},{"s":"r","t":12.8,"v":2.753},{"s":"r","t":12.9,"v":2.807},{"s":"r","t":13.0,"v":2.717},{"s":"r","t":13.06,"v":2.582},{"s":"r","t":13.19,"v":2.582},{"s":"r","t":13.25,"v":2.433},{"s":"r","t":13.33,"v":2.34},{"s":"r","t":13.41,"v":2.204},{"s":"r","t":13.49,"v":2.34},{"s":"r","t":13.57,"v":2.36},{"s":"r","t":13.63,"v":2.426},{"s":"r","t":13.71,"v":2.397},{"s":"r","t":13.77,"v":2.397},{"s":"r","t":13.85,"v":2.468},{"s":"r","t":13.91,"v":2.29},{"s":"r","t":13.97,"v":2.133},{"s":"r","t":14.05,"v":2.218},{"s":"r","t":14.14,"v":2.218},{"s":"r","t":14.22,"v":2.575},{"s":"r","t":14.3,"v":2.807},{"s":"r","t":14.4,"v":2.76},{"s":"r","t":14.5,"v":2.696},{"s":"r","t":14.56,"v":2.64},{"s":"r","t":14.64,"v":2.64},{"s":"r","t":14.7,"v":2.696},{"s":"r","t":14.76,"v":2.575},{"s":"r","t":14.84,"v":2.36},{"s":"r","t":14.96,"v":2.204},{"s":"r","t":15.04,"v":2.318},{"s":"r","t":15.12,"v":2.404},{"s":"r","t":15.19,"v":2.454},{"s":"r","t":15.25,"v":2.447},{"s":"r","t":15.31,"v":2.418},{"s":"r","t":15.37,"v":2.475},{"s":"r","t":15.41,"v":2.49},{"s":"r","t":15.45,"v":2.433},{"s":"r","t":15.49,"v":2.22},{"s":"r","t":15.53,"v":2.155},{"s":"r","t":15.57,"v":2.248},{"s":"r","t":15.65,"v":2.233},{"s":"r","t":15.71,"v":2.433},{"s":"r","t":15.77,"v":2.717},{"s":"r","t":15.84,"v":2.814},{"s":"r","t":15.93,"v":2.774},{"s":"r","t":16.01,"v":2.725},{"s":"r","t":16.09,"v":2.717},{"s":"r","t":16.15,"v":2.675},{"s":"r","t":16.24,"v":2.703},{"s":"r","t":16.3,"v":2.575},{"s":"r","t":16.36,"v":2.433},{"s":"r","t":16.44,"v":2.326},{"s":"r","t":16.52,"v":2.184},{"s":"r","t":16.58,"v":2.262},{"s":"r","t":16.64,"v":2.326},{"s":"r","t":16.72,"v":2.433},{"s":"r","t":16.78,"v":2.44},{"s":"r","t":16.86,"v":2.426},{"s":"r","t":16.92,"v":2.475},{"s":"r","t":17.0,"v":2.326},{"s":"r","t":17.04,"v":2.17},{"s":"r","t":17.12,"v":2.24},{"s":"r","t":17.18,"v":2.212},{"s":"r","t":17.25,"v":2.433},{"s":"r","t":17.33,"v":2.717},{"s":"r","t":17.41,"v":2.814},{"s":"r","t":17.49,"v":2.767},{"s":"r","t":17.57,"v":2.69},{"s":"r","t":17.65,"v":2.668},{"s":"r","t":17.73,"v":2.646},{"s":"r","t":17.81,"v":2.61},{"s":"r","t":17.87,"v":2.504},{"s":"r","t":17.93,"v":2.326},{"s":"r","t":18.03,"v":2.155},{"s":"r","t":18.11,"v":2.305},{"s":"r","t":18.2,"v":2.318},{"s":"r","t":18.28,"v":2.376},{"s":"r","t":18.38,"v":2.36},{"s":"r","t":18.48,"v":2.376},{"s":"r","t":18.54,"v":2.22},{"s":"r","t":18.58,"v":2.148},{"s":"r","t":18.64,"v":2.233},{"s":"r","t":18.72,"v":2.148},{"s":"r","t":18.8,"v":2.155},{"s":"r","t":18.86,"v":2.36},{"s":"r","t":18.94,"v":2.575},{"s":"r","t":19.02,"v":2.717},{"s":"r","t":19.12,"v":2.78},{"s":"r","t":19.2,"v":2.732},{"s":"r","t":19.26,"v":2.66},{"s":"r","t":19.35,"v":2.504},{"s":"r","t":19.43,"v":2.326},{"s":"r","t":19.51,"v":2.255},{"s":"r","t":19.59,"v":2.14},{"s":"r","t":19.67,"v":2.305},{"s":"r","t":19.75,"v":2.397},{"s":"r","t":19.83,"v":2.44},{"s":"r","t":19.91,"v":2.404},{"s":"r","t":19.99,"v":2.426},{"s":"r","t":20.04,"v":2.397},{"s":"r","t":20.1,"v":2.155},{"s":"r","t":20.17,"v":2.283},{"s":"r","t":20.21,"v":2.283},{"s":"r","t":20.27,"v":2.198},{"s":"r","t":20.33,"v":2.19},{"s":"r","t":20.39,"v":2.433},{"s":"r","t":20.45,"v":2.717},{"s":"r","t":20.53,"v":2.814},{"s":"r","t":20.61,"v":2.753},{"s":"r","t":20.67,"v":2.675},{"s":"r","t":20.73,"v":2.61},{"s":"r","t":20.79,"v":2.504},{"s":"r","t":20.85,"v":2.362},{"s":"r","t":20.89,"v":2.22},{"s":"r","t":20.95,"v":2.148},{"s":"r","t":21.01,"v":2.184},{"s":"r","t":21.07,"v":2.226},{"s":"r","t":21.13,"v":2.433},{"s":"r","t":21.17,"v":2.532},{"s":"r","t":21.24,"v":2.532},{"s":"r","t":21.28,"v":2.46},{"s":"r","t":21.34,"v":2.454},{"s":"r","t":21.4,"v":2.397},{"s":"r","t":21.46,"v":2.298},{"s":"r","t":21.52,"v":2.29},{"s":"r","t":21.6,"v":2.184},{"s":"r","t":21.64,"v":2.433},{"s":"r","t":21.7,"v":2.604},{"s":"r","t":21.76,"v":2.604},{"s":"r","t":21.8,"v":2.56},{"s":"r","t":21.88,"v":2.564},
      {"s":"g","t":0,"v":2.646},{"s":"g","t":0.08,"v":2.72},{"s":"g","t":0.16,"v":2.73},{"s":"g","t":0.22,"v":2.717},{"s":"g","t":0.28,"v":2.8},{"s":"g","t":0.36,"v":2.92},{"s":"g","t":0.46,"v":2.975},{"s":"g","t":0.56,"v":2.93},{"s":"g","t":0.69,"v":2.82},{"s":"g","t":0.81,"v":2.7},{"s":"g","t":0.89,"v":2.61},{"s":"g","t":0.97,"v":2.69},{"s":"g","t":1.05,"v":2.74},{"s":"g","t":1.13,"v":2.73},{"s":"g","t":1.21,"v":2.724},{"s":"g","t":1.29,"v":2.71},{"s":"g","t":1.41,"v":2.674},{"s":"g","t":1.51,"v":2.582},{"s":"g","t":1.58,"v":2.717},{"s":"g","t":1.66,"v":2.8},{"s":"g","t":1.8,"v":2.9},{"s":"g","t":1.98,"v":2.97},{"s":"g","t":2.1,"v":2.95},{"s":"g","t":2.22,"v":2.82},{"s":"g","t":2.34,"v":2.717},{"s":"g","t":2.42,"v":2.63},{"s":"g","t":2.54,"v":2.717},{"s":"g","t":2.67,"v":2.74},{"s":"g","t":2.75,"v":2.717},{"s":"g","t":2.83,"v":2.7},{"s":"g","t":2.95,"v":2.674},{"s":"g","t":3.07,"v":2.632},{"s":"g","t":3.15,"v":2.745},{"s":"g","t":3.3,"v":2.86},{"s":"g","t":3.45,"v":2.94},{"s":"g","t":3.55,"v":2.96},{"s":"g","t":3.7,"v":2.88},{"s":"g","t":3.88,"v":2.717},{"s":"g","t":4.02,"v":2.607},{"s":"g","t":4.12,"v":2.717},{"s":"g","t":4.2,"v":2.7},{"s":"g","t":4.32,"v":2.69},{"s":"g","t":4.44,"v":2.667},{"s":"g","t":4.56,"v":2.646},{"s":"g","t":4.64,"v":2.58},{"s":"g","t":4.73,"v":2.674},{"s":"g","t":4.85,"v":2.75},{"s":"g","t":4.95,"v":2.88},{"s":"g","t":5.05,"v":2.965},{"s":"g","t":5.2,"v":2.88},{"s":"g","t":5.35,"v":2.76},{"s":"g","t":5.49,"v":2.675},{"s":"g","t":5.57,"v":2.6},{"s":"g","t":5.67,"v":2.69},{"s":"g","t":5.76,"v":2.675},{"s":"g","t":5.86,"v":2.646},{"s":"g","t":5.98,"v":2.646},{"s":"g","t":6.06,"v":2.632},{"s":"g","t":6.18,"v":2.582},{"s":"g","t":6.26,"v":2.71},{"s":"g","t":6.34,"v":2.703},{"s":"g","t":6.42,"v":2.79},{"s":"g","t":6.52,"v":2.92},{"s":"g","t":6.6,"v":2.975},{"s":"g","t":6.72,"v":2.93},{"s":"g","t":6.85,"v":2.84},{"s":"g","t":6.99,"v":2.753},{"s":"g","t":7.07,"v":2.66},{"s":"g","t":7.15,"v":2.59},{"s":"g","t":7.25,"v":2.66},{"s":"g","t":7.35,"v":2.646},{"s":"g","t":7.43,"v":2.675},{"s":"g","t":7.51,"v":2.71},{"s":"g","t":7.63,"v":2.73},{"s":"g","t":7.71,"v":2.717},{"s":"g","t":7.77,"v":2.632},{"s":"g","t":7.81,"v":2.596},{"s":"g","t":7.88,"v":2.675},{"s":"g","t":7.96,"v":2.74},{"s":"g","t":8.05,"v":2.9},{"s":"g","t":8.14,"v":2.97},{"s":"g","t":8.3,"v":2.9},{"s":"g","t":8.42,"v":2.82},{"s":"g","t":8.52,"v":2.73},{"s":"g","t":8.6,"v":2.68},{"s":"g","t":8.72,"v":2.575},{"s":"g","t":8.8,"v":2.653},{"s":"g","t":8.89,"v":2.68},{"s":"g","t":8.97,"v":2.71},{"s":"g","t":9.05,"v":2.69},{"s":"g","t":9.17,"v":2.667},{"s":"g","t":9.27,"v":2.582},{"s":"g","t":9.33,"v":2.675},{"s":"g","t":9.41,"v":2.74},{"s":"g","t":9.55,"v":2.86},{"s":"g","t":9.7,"v":2.93},{"s":"g","t":9.85,"v":2.95},{"s":"g","t":9.98,"v":2.88},{"s":"g","t":10.08,"v":2.76},{"s":"g","t":10.14,"v":2.675},{"s":"g","t":10.22,"v":2.63},{"s":"g","t":10.34,"v":2.575},{"s":"g","t":10.42,"v":2.61},{"s":"g","t":10.5,"v":2.66},{"s":"g","t":10.58,"v":2.68},{"s":"g","t":10.66,"v":2.667},{"s":"g","t":10.76,"v":2.69},{"s":"g","t":10.84,"v":2.575},{"s":"g","t":10.93,"v":2.69},{"s":"g","t":11.03,"v":2.73},{"s":"g","t":11.11,"v":2.86},{"s":"g","t":11.22,"v":2.965},{"s":"g","t":11.35,"v":2.95},{"s":"g","t":11.47,"v":2.91},{"s":"g","t":11.59,"v":2.89},{"s":"g","t":11.67,"v":2.825},{"s":"g","t":11.75,"v":2.703},{"s":"g","t":11.87,"v":2.582},{"s":"g","t":11.95,"v":2.61},{"s":"g","t":12.08,"v":2.625},{"s":"g","t":12.2,"v":2.675},{"s":"g","t":12.32,"v":2.703},{"s":"g","t":12.42,"v":2.59},{"s":"g","t":12.52,"v":2.646},{"s":"g","t":12.6,"v":2.717},{"s":"g","t":12.68,"v":2.825},{"s":"g","t":12.8,"v":2.96},{"s":"g","t":12.92,"v":2.98},{"s":"g","t":13.0,"v":2.93},{"s":"g","t":13.09,"v":2.874},{"s":"g","t":13.21,"v":2.87},{"s":"g","t":13.29,"v":2.825},{"s":"g","t":13.37,"v":2.746},{"s":"g","t":13.41,"v":2.675},{"s":"g","t":13.47,"v":2.604},{"s":"g","t":13.57,"v":2.618},{"s":"g","t":13.69,"v":2.653},{"s":"g","t":13.85,"v":2.73},{"s":"g","t":13.91,"v":2.675},{"s":"g","t":13.97,"v":2.582},{"s":"g","t":14.05,"v":2.675},{"s":"g","t":14.14,"v":2.73},{"s":"g","t":14.22,"v":2.896},{"s":"g","t":14.28,"v":2.974},{"s":"g","t":14.38,"v":2.967},{"s":"g","t":14.5,"v":2.94},{"s":"g","t":14.62,"v":2.91},{"s":"g","t":14.7,"v":2.896},{"s":"g","t":14.8,"v":2.84},{"s":"g","t":14.9,"v":2.767},{"s":"g","t":14.98,"v":2.597},{"s":"g","t":15.06,"v":2.618},{"s":"g","t":15.18,"v":2.66},{"s":"g","t":15.27,"v":2.69},{"s":"g","t":15.39,"v":2.74},{"s":"g","t":15.45,"v":2.703},{"s":"g","t":15.51,"v":2.604},{"s":"g","t":15.57,"v":2.675},{"s":"g","t":15.65,"v":2.703},{"s":"g","t":15.73,"v":2.86},{"s":"g","t":15.83,"v":2.98},{"s":"g","t":15.93,"v":2.96},{"s":"g","t":16.03,"v":2.93},{"s":"g","t":16.13,"v":2.9},{"s":"g","t":16.22,"v":2.895},{"s":"g","t":16.3,"v":2.86},{"s":"g","t":16.4,"v":2.79},{"s":"g","t":16.48,"v":2.732},{"s":"g","t":16.52,"v":2.675},{"s":"g","t":16.58,"v":2.604},{"s":"g","t":16.64,"v":2.59},{"s":"g","t":16.74,"v":2.632},{"s":"g","t":16.84,"v":2.682},{"s":"g","t":16.92,"v":2.732},{"s":"g","t":16.98,"v":2.696},{"s":"g","t":17.04,"v":2.597},{"s":"g","t":17.14,"v":2.66},{"s":"g","t":17.23,"v":2.74},{"s":"g","t":17.29,"v":2.86},{"s":"g","t":17.39,"v":2.98},{"s":"g","t":17.49,"v":2.952},{"s":"g","t":17.61,"v":2.93},{"s":"g","t":17.69,"v":2.895},{"s":"g","t":17.81,"v":2.838},{"s":"g","t":17.89,"v":2.796},{"s":"g","t":17.97,"v":2.717},{"s":"g","t":18.03,"v":2.604},{"s":"g","t":18.13,"v":2.618},{"s":"g","t":18.26,"v":2.632},{"s":"g","t":18.38,"v":2.653},{"s":"g","t":18.48,"v":2.668},{"s":"g","t":18.54,"v":2.632},{"s":"g","t":18.58,"v":2.582},{"s":"g","t":18.64,"v":2.653},{"s":"g","t":18.72,"v":2.625},{"s":"g","t":18.8,"v":2.675},{"s":"g","t":18.86,"v":2.774},{"s":"g","t":18.96,"v":2.874},{"s":"g","t":19.12,"v":2.967},{"s":"g","t":19.2,"v":2.952},{"s":"g","t":19.3,"v":2.867},{"s":"g","t":19.43,"v":2.789},{"s":"g","t":19.51,"v":2.732},{"s":"g","t":19.59,"v":2.59},{"s":"g","t":19.69,"v":2.618},{"s":"g","t":19.79,"v":2.646},{"s":"g","t":19.9,"v":2.653},{"s":"g","t":19.98,"v":2.69},{"s":"g","t":20.04,"v":2.653},{"s":"g","t":20.1,"v":2.59},{"s":"g","t":20.19,"v":2.675},{"s":"g","t":20.27,"v":2.675},{"s":"g","t":20.35,"v":2.753},{"s":"g","t":20.43,"v":2.86},{"s":"g","t":20.53,"v":2.98},{"s":"g","t":20.61,"v":2.96},{"s":"g","t":20.69,"v":2.945},{"s":"g","t":20.77,"v":2.895},{"s":"g","t":20.83,"v":2.79},{"s":"g","t":20.89,"v":2.675},{"s":"g","t":20.93,"v":2.61},{"s":"g","t":20.99,"v":2.646},{"s":"g","t":21.07,"v":2.668},{"s":"g","t":21.13,"v":2.74},{"s":"g","t":21.17,"v":2.753},{"s":"g","t":21.24,"v":2.732},{"s":"g","t":21.3,"v":2.675},{"s":"g","t":21.36,"v":2.66},{"s":"g","t":21.44,"v":2.625},{"s":"g","t":21.52,"v":2.61},{"s":"g","t":21.58,"v":2.6},{"s":"g","t":21.64,"v":2.774},{"s":"g","t":21.7,"v":2.838},{"s":"g","t":21.76,"v":2.845},{"s":"g","t":21.82,"v":2.85},{"s":"g","t":21.88,"v":2.863},
      {"s":"k","t":0,"v":2.653},{"s":"k","t":0.08,"v":2.7},{"s":"k","t":0.18,"v":2.73},{"s":"k","t":0.3,"v":2.82},{"s":"k","t":0.46,"v":2.944},{"s":"k","t":0.58,"v":2.9},{"s":"k","t":0.69,"v":2.82},{"s":"k","t":0.81,"v":2.717},{"s":"k","t":0.91,"v":2.685},{"s":"k","t":1.01,"v":2.685},{"s":"k","t":1.09,"v":2.696},{"s":"k","t":1.17,"v":2.674},{"s":"k","t":1.27,"v":2.66},{"s":"k","t":1.39,"v":2.653},{"s":"k","t":1.49,"v":2.664},{"s":"k","t":1.58,"v":2.674},{"s":"k","t":1.66,"v":2.79},{"s":"k","t":1.85,"v":2.9},{"s":"k","t":2.02,"v":2.93},{"s":"k","t":2.14,"v":2.89},{"s":"k","t":2.26,"v":2.79},{"s":"k","t":2.38,"v":2.696},{"s":"k","t":2.46,"v":2.685},{"s":"k","t":2.58,"v":2.696},{"s":"k","t":2.67,"v":2.71},{"s":"k","t":2.77,"v":2.7},{"s":"k","t":2.87,"v":2.689},{"s":"k","t":2.99,"v":2.66},{"s":"k","t":3.07,"v":2.65},{"s":"k","t":3.15,"v":2.717},{"s":"k","t":3.3,"v":2.85},{"s":"k","t":3.55,"v":2.937},{"s":"k","t":3.7,"v":2.87},{"s":"k","t":3.84,"v":2.774},{"s":"k","t":3.96,"v":2.696},{"s":"k","t":4.04,"v":2.678},{"s":"k","t":4.16,"v":2.674},{"s":"k","t":4.28,"v":2.66},{"s":"k","t":4.4,"v":2.646},{"s":"k","t":4.48,"v":2.643},{"s":"k","t":4.6,"v":2.66},{"s":"k","t":4.73,"v":2.674},{"s":"k","t":4.85,"v":2.724},{"s":"k","t":4.95,"v":2.85},{"s":"k","t":5.03,"v":2.93},{"s":"k","t":5.15,"v":2.88},{"s":"k","t":5.37,"v":2.746},{"s":"k","t":5.53,"v":2.667},{"s":"k","t":5.69,"v":2.653},{"s":"k","t":5.78,"v":2.646},{"s":"k","t":5.9,"v":2.625},{"s":"k","t":5.98,"v":2.625},{"s":"k","t":6.08,"v":2.653},{"s":"k","t":6.18,"v":2.667},{"s":"k","t":6.3,"v":2.69},{"s":"k","t":6.38,"v":2.74},{"s":"k","t":6.5,"v":2.88},{"s":"k","t":6.58,"v":2.945},{"s":"k","t":6.7,"v":2.9},{"s":"k","t":6.87,"v":2.824},{"s":"k","t":7.03,"v":2.73},{"s":"k","t":7.15,"v":2.66},{"s":"k","t":7.27,"v":2.646},{"s":"k","t":7.39,"v":2.62},{"s":"k","t":7.51,"v":2.66},{"s":"k","t":7.63,"v":2.703},{"s":"k","t":7.71,"v":2.714},{"s":"k","t":7.79,"v":2.696},{"s":"k","t":7.88,"v":2.717},{"s":"k","t":7.98,"v":2.774},{"s":"k","t":8.08,"v":2.895},{"s":"k","t":8.14,"v":2.915},{"s":"k","t":8.3,"v":2.845},{"s":"k","t":8.42,"v":2.838},{"s":"k","t":8.6,"v":2.79},{"s":"k","t":8.68,"v":2.675},{"s":"k","t":8.74,"v":2.646},{"s":"k","t":8.84,"v":2.646},{"s":"k","t":8.95,"v":2.653},{"s":"k","t":9.05,"v":2.657},{"s":"k","t":9.17,"v":2.66},{"s":"k","t":9.29,"v":2.667},{"s":"k","t":9.39,"v":2.717},{"s":"k","t":9.49,"v":2.79},{"s":"k","t":9.61,"v":2.867},{"s":"k","t":9.81,"v":2.917},{"s":"k","t":10.02,"v":2.86},{"s":"k","t":10.08,"v":2.77},{"s":"k","t":10.18,"v":2.68},{"s":"k","t":10.3,"v":2.61},{"s":"k","t":10.46,"v":2.604},{"s":"k","t":10.58,"v":2.64},{"s":"k","t":10.7,"v":2.646},{"s":"k","t":10.82,"v":2.675},{"s":"k","t":10.95,"v":2.725},{"s":"k","t":11.07,"v":2.775},{"s":"k","t":11.23,"v":2.917},{"s":"k","t":11.43,"v":2.896},{"s":"k","t":11.55,"v":2.824},{"s":"k","t":11.63,"v":2.817},{"s":"k","t":11.75,"v":2.675},{"s":"k","t":11.87,"v":2.61},{"s":"k","t":12.03,"v":2.593},{"s":"k","t":12.12,"v":2.61},{"s":"k","t":12.24,"v":2.646},{"s":"k","t":12.32,"v":2.68},{"s":"k","t":12.44,"v":2.69},{"s":"k","t":12.56,"v":2.73},{"s":"k","t":12.66,"v":2.76},{"s":"k","t":12.76,"v":2.86},{"s":"k","t":12.9,"v":2.95},{"s":"k","t":12.98,"v":2.917},{"s":"k","t":13.06,"v":2.803},{"s":"k","t":13.17,"v":2.782},{"s":"k","t":13.25,"v":2.717},{"s":"k","t":13.33,"v":2.653},{"s":"k","t":13.45,"v":2.61},{"s":"k","t":13.59,"v":2.597},{"s":"k","t":13.69,"v":2.632},{"s":"k","t":13.83,"v":2.696},{"s":"k","t":13.95,"v":2.68},{"s":"k","t":14.1,"v":2.73},{"s":"k","t":14.22,"v":2.84},{"s":"k","t":14.3,"v":2.946},{"s":"k","t":14.42,"v":2.91},{"s":"k","t":14.54,"v":2.86},{"s":"k","t":14.64,"v":2.796},{"s":"k","t":14.72,"v":2.789},{"s":"k","t":14.84,"v":2.68},{"s":"k","t":14.96,"v":2.618},{"s":"k","t":15.12,"v":2.597},{"s":"k","t":15.25,"v":2.632},{"s":"k","t":15.39,"v":2.696},{"s":"k","t":15.49,"v":2.675},{"s":"k","t":15.59,"v":2.71},{"s":"k","t":15.69,"v":2.79},{"s":"k","t":15.77,"v":2.895},{"s":"k","t":15.85,"v":2.949},{"s":"k","t":15.95,"v":2.917},{"s":"k","t":16.05,"v":2.874},{"s":"k","t":16.13,"v":2.83},{"s":"k","t":16.24,"v":2.79},{"s":"k","t":16.32,"v":2.717},{"s":"k","t":16.4,"v":2.66},{"s":"k","t":16.52,"v":2.618},{"s":"k","t":16.66,"v":2.59},{"s":"k","t":16.76,"v":2.618},{"s":"k","t":16.88,"v":2.66},{"s":"k","t":16.94,"v":2.685},{"s":"k","t":17.04,"v":2.675},{"s":"k","t":17.17,"v":2.717},{"s":"k","t":17.27,"v":2.79},{"s":"k","t":17.39,"v":2.96},{"s":"k","t":17.49,"v":2.917},{"s":"k","t":17.57,"v":2.888},{"s":"k","t":17.65,"v":2.86},{"s":"k","t":17.73,"v":2.81},{"s":"k","t":17.83,"v":2.74},{"s":"k","t":17.93,"v":2.675},{"s":"k","t":18.01,"v":2.646},{"s":"k","t":18.11,"v":2.632},{"s":"k","t":18.21,"v":2.59},{"s":"k","t":18.34,"v":2.61},{"s":"k","t":18.46,"v":2.653},{"s":"k","t":18.58,"v":2.66},{"s":"k","t":18.66,"v":2.696},{"s":"k","t":18.76,"v":2.732},{"s":"k","t":18.84,"v":2.767},{"s":"k","t":18.94,"v":2.838},{"s":"k","t":19.1,"v":2.93},{"s":"k","t":19.18,"v":2.902},{"s":"k","t":19.26,"v":2.838},{"s":"k","t":19.37,"v":2.696},{"s":"k","t":19.47,"v":2.668},{"s":"k","t":19.59,"v":2.646},{"s":"k","t":19.75,"v":2.61},{"s":"k","t":19.87,"v":2.625},{"s":"k","t":19.97,"v":2.653},{"s":"k","t":20.09,"v":2.653},{"s":"k","t":20.17,"v":2.69},{"s":"k","t":20.27,"v":2.725},{"s":"k","t":20.37,"v":2.789},{"s":"k","t":20.45,"v":2.895},{"s":"k","t":20.53,"v":2.97},{"s":"k","t":20.61,"v":2.952},{"s":"k","t":20.69,"v":2.938},{"s":"k","t":20.75,"v":2.902},{"s":"k","t":20.81,"v":2.824},{"s":"k","t":20.87,"v":2.732},{"s":"k","t":20.93,"v":2.69},{"s":"k","t":21.03,"v":2.675},{"s":"k","t":21.11,"v":2.69},{"s":"k","t":21.17,"v":2.7},{"s":"k","t":21.24,"v":2.66},{"s":"k","t":21.3,"v":2.632},{"s":"k","t":21.4,"v":2.61},{"s":"k","t":21.46,"v":2.607},{"s":"k","t":21.52,"v":2.621},{"s":"k","t":21.6,"v":2.625},{"s":"k","t":21.66,"v":2.682},{"s":"k","t":21.72,"v":2.753},{"s":"k","t":21.78,"v":2.774},{"s":"k","t":21.84,"v":2.792},{"s":"k","t":21.88,"v":2.813}
    ]
  },
  "layer": [
    {
      "data": {"name": "band"},
      "mark": {"type": "area", "color": "#008000", "opacity": 0.4, "interpolate": "linear"},
      "encoding": {
        "x": {"field": "t", "type": "quantitative", "scale": {"domain": [-1.094, 22.974], "nice": false, "zero": false}, "axis": {"values": [0, 5, 10, 15, 20], "format": "d", "title": "GPS Time (Hours)"}},
        "y": {"field": "lo", "type": "quantitative", "scale": {"domain": [1.937, 3.1145], "nice": false, "zero": false}, "axis": {"values": [2.0, 2.2, 2.4, 2.6, 2.8, 3.0], "format": ".1f", "title": "C_d X Area"}},
        "y2": {"field": "hi"}
      }
    },
    {
      "data": {"name": "lines"},
      "mark": {"type": "line", "strokeWidth": 9, "strokeJoin": "round", "strokeCap": "square"},
      "encoding": {
        "x": {"field": "t", "type": "quantitative"},
        "y": {"field": "v", "type": "quantitative"},
        "color": {
          "field": "s", "type": "nominal",
          "scale": {"domain": ["b", "r", "g", "k", "band"], "range": ["#0000ff", "#ff0000", "#008000", "#000000", "#008000"]},
          "legend": {
            "title": null,
            "orient": "none", "legendX": 28, "legendY": 28,
            "symbolType": "M-2,0H2",
            "symbolSize": 3540,
            "symbolStrokeWidth": 8.33,
            "symbolOffset": 25.5,
            "labelOffset": 70,
            "rowPadding": 18.5,
            "padding": 14,
            "labelFont": "DejaVu Sans", "labelFontSize": 55.6, "labelColor": "black", "labelLimit": 3000,
            "fillColor": "rgba(255,255,255,0.8)", "strokeColor": "#cccccc", "cornerRadius": 11,
            "labelExpr": "datum.value === 'b' ? 'DRIA C_D X A (α = 0.85 RSM; 10K)' : datum.value === 'r' ? 'DRIA C_D X A (α = 0.85 RSM; 20K)' : datum.value === 'g' ? 'DRIA C_D X A (α = 0.85 RSM; 50K)' : datum.value === 'k' ? 'DSMC C_D X A' : '3σ Bound (α = 0.85 RSM; 50K)'",
            "encode": {
              "legend": {"update": {"strokeWidth": {"value": 4.4}}},
              "symbols": {
                "update": {
                  "shape": [{"test": "datum.value === 'band'", "value": "M-1.87,-0.655H1.87V0.655H-1.87Z"}, {"value": "M-2,0H2"}],
                  "fill": [{"test": "datum.value === 'band'", "value": "#008000"}, {"value": "transparent"}],
                  "fillOpacity": [{"test": "datum.value === 'band'", "value": 0.4}, {"value": 0}],
                  "strokeOpacity": [{"test": "datum.value === 'band'", "value": 0}, {"value": 1}]
                }
              }
            }
          }
        }
      }
    }
  ]
}
